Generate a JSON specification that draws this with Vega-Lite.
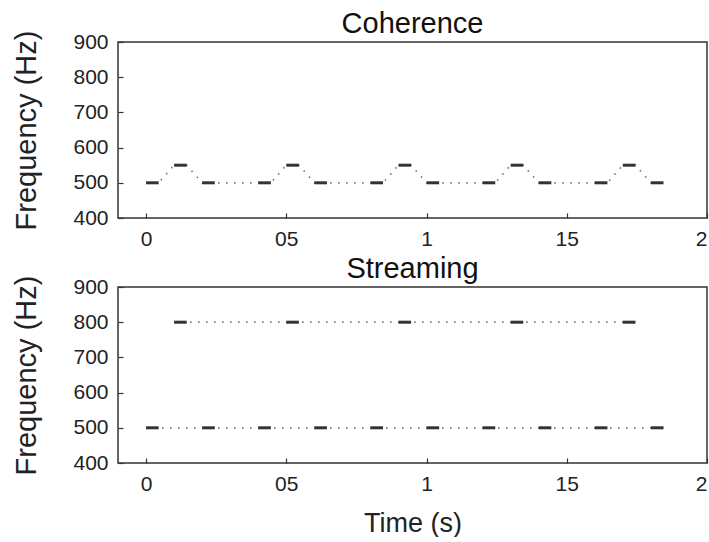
{
  "$schema": "https://vega.github.io/schema/vega-lite/v6.json",
  "background": "#ffffff",
  "padding": {"left": 12, "top": 9, "right": 0, "bottom": 0},
  "config": {
    "font": "Liberation Sans",
    "view": {"stroke": "#333333", "strokeWidth": 1.5},
    "axis": {
      "grid": false,
      "domain": false,
      "tickColor": "#333333",
      "tickWidth": 1.2,
      "tickSize": -5,
      "labelPadding": 15,
      "labelFontSize": 21,
      "labelColor": "#222222",
      "titleFontSize": 29,
      "titleFontWeight": "normal",
      "titleColor": "#222222"
    },
    "title": {"fontSize": 29, "fontWeight": "normal", "color": "#111111", "offset": -9},
    "concat": {"spacing": 4}
  },
  "datasets": {
    "tones": [
      {"panel": "Coherence", "series": "ABA", "start": 0.0, "end": 0.045, "freq": 500},
      {"panel": "Coherence", "series": "ABA", "start": 0.1, "end": 0.145, "freq": 550},
      {"panel": "Coherence", "series": "ABA", "start": 0.2, "end": 0.245, "freq": 500},
      {"panel": "Coherence", "series": "ABA", "start": 0.4, "end": 0.445, "freq": 500},
      {"panel": "Coherence", "series": "ABA", "start": 0.5, "end": 0.545, "freq": 550},
      {"panel": "Coherence", "series": "ABA", "start": 0.6, "end": 0.645, "freq": 500},
      {"panel": "Coherence", "series": "ABA", "start": 0.8, "end": 0.845, "freq": 500},
      {"panel": "Coherence", "series": "ABA", "start": 0.9, "end": 0.945, "freq": 550},
      {"panel": "Coherence", "series": "ABA", "start": 1.0, "end": 1.045, "freq": 500},
      {"panel": "Coherence", "series": "ABA", "start": 1.2, "end": 1.245, "freq": 500},
      {"panel": "Coherence", "series": "ABA", "start": 1.3, "end": 1.345, "freq": 550},
      {"panel": "Coherence", "series": "ABA", "start": 1.4, "end": 1.445, "freq": 500},
      {"panel": "Coherence", "series": "ABA", "start": 1.6, "end": 1.645, "freq": 500},
      {"panel": "Coherence", "series": "ABA", "start": 1.7, "end": 1.745, "freq": 550},
      {"panel": "Coherence", "series": "ABA", "start": 1.8, "end": 1.845, "freq": 500},
      {"panel": "Streaming", "series": "A", "start": 0.0, "end": 0.045, "freq": 500},
      {"panel": "Streaming", "series": "A", "start": 0.2, "end": 0.245, "freq": 500},
      {"panel": "Streaming", "series": "A", "start": 0.4, "end": 0.445, "freq": 500},
      {"panel": "Streaming", "series": "A", "start": 0.6, "end": 0.645, "freq": 500},
      {"panel": "Streaming", "series": "A", "start": 0.8, "end": 0.845, "freq": 500},
      {"panel": "Streaming", "series": "A", "start": 1.0, "end": 1.045, "freq": 500},
      {"panel": "Streaming", "series": "A", "start": 1.2, "end": 1.245, "freq": 500},
      {"panel": "Streaming", "series": "A", "start": 1.4, "end": 1.445, "freq": 500},
      {"panel": "Streaming", "series": "A", "start": 1.6, "end": 1.645, "freq": 500},
      {"panel": "Streaming", "series": "A", "start": 1.8, "end": 1.845, "freq": 500},
      {"panel": "Streaming", "series": "B", "start": 0.1, "end": 0.145, "freq": 800},
      {"panel": "Streaming", "series": "B", "start": 0.5, "end": 0.545, "freq": 800},
      {"panel": "Streaming", "series": "B", "start": 0.9, "end": 0.945, "freq": 800},
      {"panel": "Streaming", "series": "B", "start": 1.3, "end": 1.345, "freq": 800},
      {"panel": "Streaming", "series": "B", "start": 1.7, "end": 1.745, "freq": 800}
    ]
  },
  "vconcat": [
    {
      "title": "Coherence",
      "width": 589,
      "height": 176,
      "data": {"name": "tones"},
      "transform": [{"filter": "datum.panel === 'Coherence'"}],
      "layer": [
        {
          "transform": [{"fold": ["start", "end"], "as": ["edge", "t"]}],
          "mark": {"type": "line", "strokeDash": [1.5, 6.5], "strokeWidth": 1.7, "color": "#737373"},
          "encoding": {
            "x": {"field": "t", "type": "quantitative", "scale": {"domain": [-0.1, 2], "nice": false}, "axis": {"title": null, "values": [0, 0.5, 1, 1.5, 2], "labelOverlap": false, "labelFlush": true, "labelExpr": "datum.value == 0 ? '0' : datum.value == 0.5 ? '05' : datum.value == 1 ? '1' : datum.value == 1.5 ? '15' : '2'"}},
            "y": {"field": "freq", "type": "quantitative", "scale": {"domain": [400, 900], "nice": false}, "axis": {"title": "Frequency (Hz)", "values": [400, 500, 600, 700, 800, 900], "labelOverlap": false, "titlePadding": 31}},
            "detail": {"field": "series"},
            "order": {"field": "t", "type": "quantitative"}
          }
        },
        {
          "mark": {"type": "rule", "strokeWidth": 3, "color": "#333333", "strokeCap": "butt"},
          "encoding": {
            "x": {"field": "start", "type": "quantitative", "axis": {"title": null, "values": [0, 0.5, 1, 1.5, 2], "labelOverlap": false, "labelFlush": true, "labelExpr": "datum.value == 0 ? '0' : datum.value == 0.5 ? '05' : datum.value == 1 ? '1' : datum.value == 1.5 ? '15' : '2'"}},
            "x2": {"field": "end"},
            "y": {"field": "freq", "type": "quantitative", "axis": {"title": "Frequency (Hz)", "values": [400, 500, 600, 700, 800, 900], "labelOverlap": false, "titlePadding": 31}}
          }
        }
      ]
    },
    {
      "title": "Streaming",
      "width": 589,
      "height": 176,
      "data": {"name": "tones"},
      "transform": [{"filter": "datum.panel === 'Streaming'"}],
      "layer": [
        {
          "transform": [{"fold": ["start", "end"], "as": ["edge", "t"]}],
          "mark": {"type": "line", "strokeDash": [1.5, 6.5], "strokeWidth": 1.7, "color": "#737373"},
          "encoding": {
            "x": {"field": "t", "type": "quantitative", "scale": {"domain": [-0.1, 2], "nice": false}, "axis": {"title": "Time (s)", "titleFontSize": 27, "titlePadding": 16, "values": [0, 0.5, 1, 1.5, 2], "labelOverlap": false, "labelFlush": true, "labelExpr": "datum.value == 0 ? '0' : datum.value == 0.5 ? '05' : datum.value == 1 ? '1' : datum.value == 1.5 ? '15' : '2'"}},
            "y": {"field": "freq", "type": "quantitative", "scale": {"domain": [400, 900], "nice": false}, "axis": {"title": "Frequency (Hz)", "values": [400, 500, 600, 700, 800, 900], "labelOverlap": false, "titlePadding": 31}},
            "detail": {"field": "series"},
            "order": {"field": "t", "type": "quantitative"}
          }
        },
        {
          "mark": {"type": "rule", "strokeWidth": 3, "color": "#333333", "strokeCap": "butt"},
          "encoding": {
            "x": {"field": "start", "type": "quantitative", "axis": {"title": "Time (s)", "titleFontSize": 27, "titlePadding": 16, "values": [0, 0.5, 1, 1.5, 2], "labelOverlap": false, "labelFlush": true, "labelExpr": "datum.value == 0 ? '0' : datum.value == 0.5 ? '05' : datum.value == 1 ? '1' : datum.value == 1.5 ? '15' : '2'"}},
            "x2": {"field": "end"},
            "y": {"field": "freq", "type": "quantitative", "axis": {"title": "Frequency (Hz)", "values": [400, 500, 600, 700, 800, 900], "labelOverlap": false, "titlePadding": 31}}
          }
        }
      ]
    }
  ]
}
